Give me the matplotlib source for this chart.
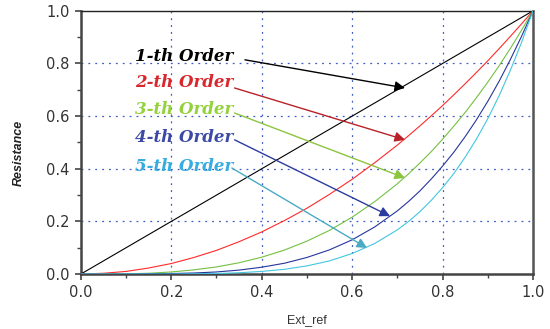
import matplotlib.pyplot as plt
from matplotlib.ticker import MultipleLocator

# sample points along Ext_ref (denser near the steep end)
ext_ref = [0.0, 0.05, 0.1, 0.15, 0.2, 0.25, 0.3, 0.35, 0.4, 0.45, 0.5,
           0.55, 0.6, 0.65, 0.7, 0.725, 0.75, 0.775, 0.8, 0.825, 0.85,
           0.875, 0.9, 0.925, 0.95, 0.975, 1.0]

order1 = [0.0, 0.05, 0.1, 0.15, 0.2, 0.25, 0.3, 0.35, 0.4, 0.45, 0.5,
          0.55, 0.6, 0.65, 0.7, 0.725, 0.75, 0.775, 0.8, 0.825, 0.85,
          0.875, 0.9, 0.925, 0.95, 0.975, 1.0]
order2 = [0.0, 0.003, 0.01, 0.023, 0.04, 0.063, 0.09, 0.123, 0.16, 0.203, 0.25,
          0.303, 0.36, 0.423, 0.49, 0.526, 0.563, 0.601, 0.64, 0.681, 0.723,
          0.766, 0.81, 0.856, 0.903, 0.951, 1.0]
order3 = [0.0, 0.0, 0.001, 0.003, 0.008, 0.016, 0.027, 0.043, 0.064, 0.091, 0.125,
          0.166, 0.216, 0.275, 0.343, 0.381, 0.422, 0.465, 0.512, 0.562, 0.614,
          0.67, 0.729, 0.791, 0.857, 0.927, 1.0]
order4 = [0.0, 0.0, 0.0, 0.001, 0.002, 0.004, 0.008, 0.015, 0.026, 0.041, 0.063,
          0.092, 0.13, 0.179, 0.24, 0.276, 0.316, 0.361, 0.41, 0.463, 0.522,
          0.586, 0.656, 0.732, 0.815, 0.904, 1.0]
order5 = [0.0, 0.0, 0.0, 0.0, 0.0, 0.001, 0.002, 0.005, 0.01, 0.018, 0.031,
          0.05, 0.078, 0.116, 0.168, 0.2, 0.237, 0.28, 0.328, 0.382, 0.444,
          0.513, 0.59, 0.677, 0.774, 0.881, 1.0]

labels = ["1-th Order", "2-th Order", "3-th Order", "4-th Order", "5-th Order"]
line_colors = ["black", "#ff2a2a", "#74c043", "#27369c", "#44c6e0"]
text_colors = ["black", "#d8282e", "#94d23c", "#3c4aa6", "#36ace0"]
arrow_colors = ["black", "#b82228", "#8cc43e", "#2c3c9e", "#4aaac4"]

# label anchor (left, centre) and arrow start / tip in data coords
text_pos = [(0.12, 0.825), (0.12, 0.726), (0.12, 0.624), (0.12, 0.52), (0.12, 0.407)]
arrow_from = [(0.363, 0.814), (0.34, 0.707), (0.34, 0.612), (0.34, 0.51), (0.334, 0.403)]
arrow_to = [(0.717, 0.707), (0.717, 0.51), (0.717, 0.365), (0.684, 0.22), (0.633, 0.099)]

fig = plt.figure(figsize=(5.5, 3.29), dpi=100)
ax = fig.add_axes([0.147, 0.167, 0.822, 0.800])

for ys, c in zip([order1, order2, order3, order4, order5], line_colors):
    ax.plot(ext_ref, ys, color=c, lw=0.8, zorder=3)

for lab, tp, a0, a1, tc, ac in zip(labels, text_pos, arrow_from, arrow_to,
                                   text_colors, arrow_colors):
    ax.text(tp[0], tp[1], lab, color=tc, fontsize=12, family="DejaVu Serif",
            style="italic", weight="bold", va="center", zorder=5)
    ax.annotate("", xy=a1, xytext=a0,
                arrowprops=dict(arrowstyle="-|>", color=ac, lw=1.0,
                                mutation_scale=15, shrinkA=0, shrinkB=0),
                zorder=4)

ax.set_xlim(0, 1)
ax.set_ylim(0, 1)
ax.xaxis.set_major_locator(MultipleLocator(0.2))
ax.yaxis.set_major_locator(MultipleLocator(0.2))
ax.xaxis.set_minor_locator(MultipleLocator(0.1))
ax.yaxis.set_minor_locator(MultipleLocator(0.1))
ax.xaxis.set_major_formatter(lambda v, p: f"{v:.1f}")
ax.yaxis.set_major_formatter(lambda v, p: f"{v:.1f}")

for v in [0.2, 0.4, 0.6, 0.8]:
    ax.axvline(v, color="#3f5fc0", lw=0.9, ls=(0, (1.5, 4)), zorder=1)
    ax.axhline(v, color="#3f5fc0", lw=0.9, ls=(0, (1.5, 4)), zorder=1)

ax.tick_params(which="major", direction="out", length=4, width=1.2,
               color="#444444", labelsize=10.5, labelcolor="#333333", pad=4)
ax.tick_params(which="minor", direction="out", length=3, width=1.0, color="#444444")
for lab in ax.get_xticklabels() + ax.get_yticklabels():
    lab.set_family("DejaVu Sans")

ax.spines["left"].set_linewidth(1.8)
ax.spines["left"].set_color("#444444")
ax.spines["bottom"].set_linewidth(1.8)
ax.spines["bottom"].set_color("#444444")
ax.spines["right"].set_linewidth(1.8)
ax.spines["right"].set_color("#555555")
ax.spines["top"].set_linewidth(1.0)
ax.spines["top"].set_color("#222222")

ax.set_xlabel("Ext_ref", family="Liberation Sans", fontsize=9, color="#333333", labelpad=10)
ax.set_ylabel("Resistance", family="Liberation Sans", fontsize=9,
              style="italic", weight="bold", color="#222222")
ax.yaxis.set_label_coords(-0.125, 0.46)

fig.savefig("out.png", dpi=100)
